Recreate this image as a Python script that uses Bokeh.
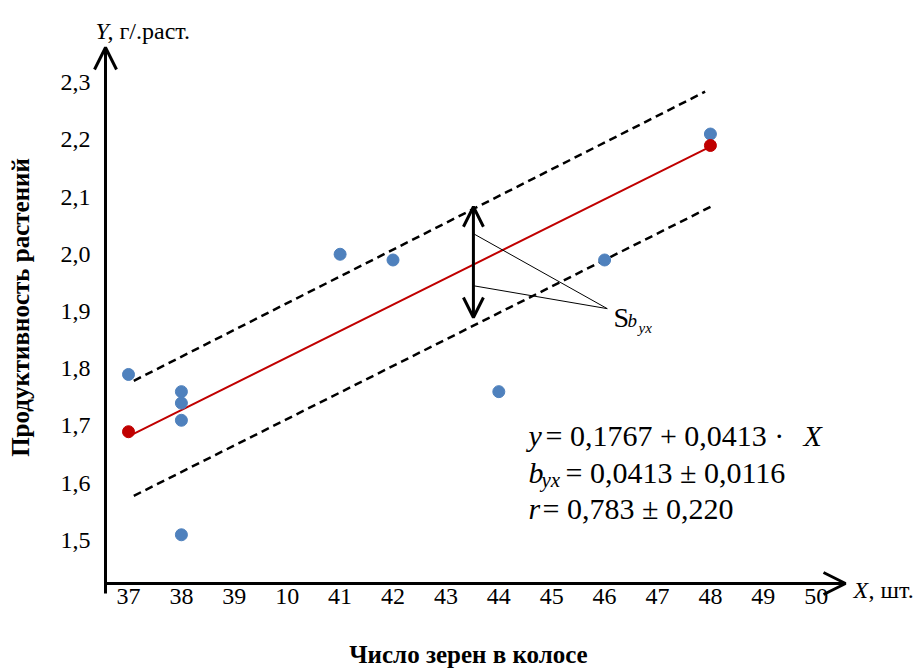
from bokeh.plotting import figure
from bokeh.models import Label, Arrow, OpenHead, FixedTicker
from bokeh.embed import file_html
from bokeh.resources import INLINE
from math import pi

# ---- data ----
obs_x = [37, 38, 38, 38, 38, 41, 42, 44, 46, 48]
obs_y = [1.79, 1.76, 1.74, 1.71, 1.51, 2.00, 1.99, 1.76, 1.99, 2.21]

fit_x = [37, 48]
fit_y = [1.69, 2.19]

reg_x = [37, 48]
reg_y = [1.682, 2.188]

upper_x = [37.1, 47.9]
upper_y = [1.779, 2.284]
lower_x = [37.1, 48.05]
lower_y = [1.578, 2.085]

x_ticks = [37, 38, 39, 40, 41, 42, 43, 44, 45, 46, 47, 48, 49, 50]
x_tick_labels = ["37", "38", "39", "10", "41", "42", "43", "44", "45", "46", "47", "48", "49", "50"]
y_ticks = [1.5, 1.6, 1.7, 1.8, 1.9, 2.0, 2.1, 2.2, 2.3]
y_tick_labels = ["1,5", "1,6", "1,7", "1,8", "1,9", "2,0", "2,1", "2,2", "2,3"]

x_title = "Число зерен в колосе"
y_title = "Продуктивность растений"

FONT = "Liberation Serif"
BLUE = "#4F81BD"
RED = "#C00000"

X0, X1 = 34.5803, 52.047
Y0, Y1 = 1.2729, 2.4293
AX_X = 36.5652   # where the drawn y axis crosses
AX_Y = 1.4249    # where the drawn x axis crosses

p = figure(width=924, height=670, x_range=(X0, X1), y_range=(Y0, Y1),
           output_backend="svg", toolbar_location=None,
           min_border_left=0, min_border_right=0,
           min_border_top=8, min_border_bottom=0)
p.outline_line_color = None
p.grid.visible = False
p.background_fill_color = "white"
p.border_fill_color = "white"

for ax in (p.xaxis[0], p.yaxis[0]):
    ax.axis_line_color = None
    ax.major_tick_line_color = None
    ax.minor_tick_line_color = None
    ax.major_tick_out = 0
    ax.major_tick_in = 0
    ax.major_label_text_font = FONT
    ax.major_label_text_font_size = "24px"
    ax.major_label_text_color = "black"

p.xaxis[0].ticker = FixedTicker(ticks=x_ticks)
p.xaxis[0].major_label_overrides = {t: s for t, s in zip(x_ticks, x_tick_labels)}
p.xaxis[0].major_label_standoff = -82

p.yaxis[0].ticker = FixedTicker(ticks=y_ticks)
p.yaxis[0].major_label_overrides = {t: s for t, s in zip(y_ticks, y_tick_labels)}
p.yaxis[0].major_label_standoff = -90

# axis lines with arrow heads
p.add_layout(Arrow(end=OpenHead(size=22, line_width=3, line_color="black"),
                   x_start=AX_X, y_start=1.4074, x_end=AX_X, y_end=2.3611,
                   line_width=3, line_color="black"))
p.add_layout(Arrow(end=OpenHead(size=22, line_width=3, line_color="black"),
                   x_start=AX_X, y_start=AX_Y, x_end=50.554, y_end=AX_Y,
                   line_width=3, line_color="black"))

# confidence band lines
p.line(upper_x, upper_y, line_color="black", line_width=2.5, line_dash="8 5")
p.line(lower_x, lower_y, line_color="black", line_width=2.5, line_dash="8 5")

# regression line
p.line(reg_x, reg_y, line_color=RED, line_width=2)

# observations
p.scatter(obs_x, obs_y, size=12, fill_color=BLUE, line_color=BLUE)
p.scatter(fit_x, fit_y, size=12, fill_color=RED, line_color=RED)

# S_byx double arrow and leader lines
p.add_layout(Arrow(start=OpenHead(size=20, line_width=3, line_color="black"),
                   end=OpenHead(size=20, line_width=3, line_color="black"),
                   x_start=43.52, y_start=1.8895, x_end=43.52, y_end=2.083,
                   line_width=3, line_color="black"))
p.line([43.52, 46.05, 43.52], [2.036, 1.905, 1.945], line_color="black", line_width=1)


def lab(x, y, text, size, style="normal", align="left", baseline="alphabetic", angle=0):
    p.add_layout(Label(x=x, y=y, text=text, text_font=FONT, text_font_size=size,
                       text_font_style=style, text_align=align, text_baseline=baseline,
                       text_color="black", angle=angle))

lab(46.168, 1.8895, "S", "28px")
lab(46.433, 1.8843, "b", "19px", "italic")
lab(46.641, 1.872, "yx", "15px", "italic")

# equations
lab(44.561, 1.6834, "y", "30px", "italic")
lab(44.883, 1.6834, "= 0,1767 + 0,0413 ·", "30px")
lab(49.760, 1.6834, "X", "30px", "italic")
lab(44.561, 1.6188, "b", "30px", "italic")
lab(44.807, 1.6048, "yx", "21px", "italic")
lab(45.261, 1.6188, "= 0,0413 ± 0,0116", "30px")
lab(44.561, 1.5559, "r", "30px", "italic")
lab(44.826, 1.5559, "= 0,783 ± 0,220", "30px")

# axis names
lab(36.376, 2.3908, "Y", "24px", "italic")
lab(36.603, 2.3908, ", г/.раст.", "24px")
lab(50.705, 1.4127, "X", "24px", "italic")
lab(50.989, 1.4127, ", шт.", "24px")

# axis titles
lab(43.427, 1.3009, x_title, "25px", "bold", "center", "middle")
lab(34.9584, 1.907, y_title, "25px", "bold", "center", "middle", pi / 2)

open("out.html", "w").write(file_html(p, INLINE))
